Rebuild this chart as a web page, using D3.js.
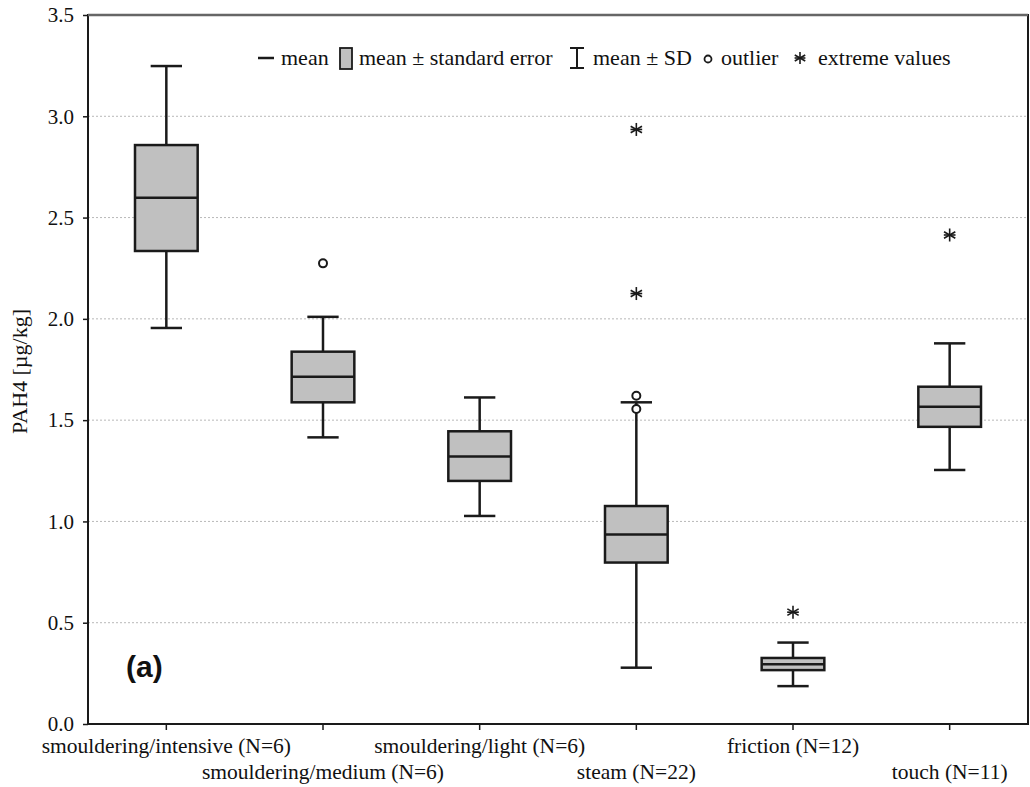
<!DOCTYPE html>
<html>
<head>
<meta charset="utf-8">
<script src="https://cdn.jsdelivr.net/npm/d3@7/dist/d3.min.js"></script>
<style>
  html, body { margin: 0; padding: 0; background: #fff; }
  svg { display: block; }
  svg text { font-family: "Liberation Serif", Tinos, "Times New Roman", Times, "DejaVu Serif", serif; fill: #111; }
</style>
</head>
<body>
<svg id="chart" width="1030" height="787"></svg>
<script>
// PAH4 content by smoking method: mean, mean ± SE box, mean ± SD whiskers
const categories = [
  "smouldering/intensive (N=6)",
  "smouldering/medium (N=6)",
  "smouldering/light (N=6)",
  "steam (N=22)",
  "friction (N=12)",
  "touch (N=11)"
];
const means  = [2.598, 1.714, 1.320, 0.935, 0.295, 1.566];
const seLow  = [2.335, 1.588, 1.200, 0.797, 0.266, 1.467];
const seHigh = [2.858, 1.838, 1.445, 1.076, 0.326, 1.665];
const sdLow  = [1.955, 1.415, 1.027, 0.278, 0.187, 1.254];
const sdHigh = [3.248, 2.010, 1.612, 1.588, 0.402, 1.879];
const outlierCats = [1, 3, 3];
const outlierVals = [2.274, 1.620, 1.555];
const extremeCats = [3, 3, 4, 5];
const extremeVals = [2.935, 2.125, 0.552, 2.414];
const yTicks = [0, 0.5, 1.0, 1.5, 2.0, 2.5, 3.0, 3.5];
const yLabel = "PAH4 [\u00b5g/kg]";
const legendItems = ["mean", "mean \u00b1 standard error", "mean \u00b1 SD", "outlier", "extreme values"];

const SERIF = '"Liberation Serif", Tinos, "Times New Roman", Times, "DejaVu Serif", serif';
const svg = d3.select("#chart");
const m = { left: 88, right: 1028, top: 15, bottom: 724 };

const x = d3.scaleBand().domain(categories).range([m.left, m.right]).paddingInner(0).paddingOuter(0);
const y = d3.scaleLinear().domain([0, 3.5]).range([m.bottom, m.top]);
const cx = i => x(categories[i]) + x.bandwidth() / 2;
const boxW = x.bandwidth() * 0.40;
const capW = x.bandwidth() * 0.20;
const STROKE = "#1a1a1a";

// dotted grid lines
svg.append("g").selectAll("line")
  .data(yTicks.filter(t => t > 0 && t < 3.5))
  .join("line")
  .attr("x1", m.left).attr("x2", m.right)
  .attr("y1", d => y(d)).attr("y2", d => y(d))
  .attr("stroke", "#b8b8b8").attr("stroke-width", 1)
  .attr("stroke-dasharray", "2,2");

// y axis
const yAxis = svg.append("g")
  .attr("transform", `translate(${m.left},0)`)
  .call(d3.axisLeft(y).tickValues(yTicks).tickFormat(d3.format(".1f")).tickSize(5).tickPadding(9));
yAxis.attr("font-family", null).attr("font-size", null);
yAxis.select(".domain").remove();
yAxis.selectAll(".tick line").attr("stroke", STROKE).attr("stroke-width", 1.5);
yAxis.selectAll(".tick text").style("font-family", SERIF).style("font-size", "21px").attr("fill", "#111");

// x axis: ticks at category centres, labels alternate on two rows
const xAxis = svg.append("g")
  .attr("transform", `translate(0,${m.bottom})`)
  .call(d3.axisBottom(x).tickSize(6).tickPadding(8));
xAxis.attr("font-family", null).attr("font-size", null);
xAxis.select(".domain").remove();
xAxis.selectAll(".tick line").attr("stroke", STROKE).attr("stroke-width", 1.5);
xAxis.selectAll(".tick text")
  .style("font-family", SERIF).style("font-size", "21.5px").attr("fill", "#111")
  .attr("dy", (d, i) => i % 2 === 0 ? "0.71em" : "1.93em");

// frame
svg.append("rect")
  .attr("x", m.left).attr("y", m.top)
  .attr("width", m.right - m.left).attr("height", m.bottom - m.top)
  .attr("fill", "none").attr("stroke", STROKE).attr("stroke-width", 2);
svg.append("line")
  .attr("x1", m.left).attr("x2", m.right).attr("y1", m.top).attr("y2", m.top)
  .attr("stroke", "#666").attr("stroke-width", 2.5);

// y axis title
svg.append("text")
  .attr("transform", `translate(27,${(m.top + m.bottom) / 2 + 2}) rotate(-90)`)
  .attr("text-anchor", "middle")
  .style("font-family", SERIF)
  .style("font-size", "22px")
  .text(yLabel);

// boxes
const idx = d3.range(categories.length);
const g = svg.append("g");

// whiskers
g.selectAll(".whisker").data(idx).join("line")
  .attr("x1", cx).attr("x2", cx)
  .attr("y1", i => y(sdHigh[i])).attr("y2", i => y(sdLow[i]))
  .attr("stroke", STROKE).attr("stroke-width", 2.5);
["hi", "lo"].forEach(k => {
  g.selectAll(".cap-" + k).data(idx).join("line")
    .attr("x1", i => cx(i) - capW / 2).attr("x2", i => cx(i) + capW / 2)
    .attr("y1", i => y(k === "hi" ? sdHigh[i] : sdLow[i]))
    .attr("y2", i => y(k === "hi" ? sdHigh[i] : sdLow[i]))
    .attr("stroke", STROKE).attr("stroke-width", 2.5);
});

// SE boxes
g.selectAll(".box").data(idx).join("rect")
  .attr("x", i => cx(i) - boxW / 2).attr("width", boxW)
  .attr("y", i => y(seHigh[i])).attr("height", i => y(seLow[i]) - y(seHigh[i]))
  .attr("fill", "#c0c0c0").attr("stroke", STROKE).attr("stroke-width", 2.5);

// mean lines
g.selectAll(".mean").data(idx).join("line")
  .attr("x1", i => cx(i) - boxW / 2).attr("x2", i => cx(i) + boxW / 2)
  .attr("y1", i => y(means[i])).attr("y2", i => y(means[i]))
  .attr("stroke", STROKE).attr("stroke-width", 2.5);

// outliers
g.selectAll(".outlier").data(d3.range(outlierVals.length)).join("circle")
  .attr("cx", j => cx(outlierCats[j])).attr("cy", j => y(outlierVals[j]))
  .attr("r", 4).attr("fill", "#fff").attr("stroke", STROKE).attr("stroke-width", 2);

// extreme values (asterisks)
function asterisk(sel, r) {
  sel.append("line").attr("x1", 0).attr("x2", 0).attr("y1", -r).attr("y2", r);
  sel.append("line").attr("x1", -r * 0.87).attr("x2", r * 0.87).attr("y1", -r * 0.5).attr("y2", r * 0.5);
  sel.append("line").attr("x1", -r * 0.87).attr("x2", r * 0.87).attr("y1", r * 0.5).attr("y2", -r * 0.5);
  sel.append("line").attr("x1", -r * 0.9).attr("x2", r * 0.9).attr("y1", 0).attr("y2", 0);
  sel.selectAll("line").attr("stroke", STROKE).attr("stroke-width", 1.6);
}
g.selectAll(".extreme").data(d3.range(extremeVals.length)).join("g")
  .attr("transform", j => `translate(${cx(extremeCats[j])},${y(extremeVals[j])})`)
  .each(function () { asterisk(d3.select(this), 6.5); });

// legend: symbols and labels laid out along one row
const lg = svg.append("g");
const ly = 58;
const legendText = (t, x0) => lg.append("text").attr("x", x0).attr("y", ly + 7)
  .style("font-family", SERIF).style("font-size", "22px").text(t);

lg.append("line").attr("x1", 258).attr("x2", 274).attr("y1", ly).attr("y2", ly)
  .attr("stroke", STROKE).attr("stroke-width", 2.5);
legendText(legendItems[0], 281);

lg.append("rect").attr("x", 340).attr("y", ly - 10).attr("width", 12).attr("height", 21)
  .attr("fill", "#c0c0c0").attr("stroke", STROKE).attr("stroke-width", 1.8);
legendText(legendItems[1], 359);

lg.append("line").attr("x1", 577).attr("x2", 577).attr("y1", ly - 10).attr("y2", ly + 10).attr("stroke", STROKE).attr("stroke-width", 2);
lg.append("line").attr("x1", 570).attr("x2", 584).attr("y1", ly - 10).attr("y2", ly - 10).attr("stroke", STROKE).attr("stroke-width", 2);
lg.append("line").attr("x1", 570).attr("x2", 584).attr("y1", ly + 10).attr("y2", ly + 10).attr("stroke", STROKE).attr("stroke-width", 2);
legendText(legendItems[2], 593);

lg.append("circle").attr("cx", 708).attr("cy", ly + 1).attr("r", 3.5)
  .attr("fill", "#fff").attr("stroke", STROKE).attr("stroke-width", 1.8);
legendText(legendItems[3], 721);

asterisk(lg.append("g").attr("transform", `translate(800,${ly})`), 6);
legendText(legendItems[4], 818);

// panel tag
svg.append("text")
  .attr("x", 126).attr("y", 677)
  .style("font-family", '"Liberation Sans", Arimo, Arial, sans-serif')
  .style("font-weight", "bold").style("font-size", "30px")
  .text("(a)");
</script>
</body>
</html>
